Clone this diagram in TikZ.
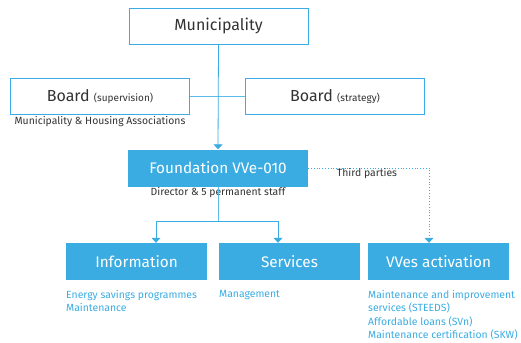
\documentclass[tikz,border=0pt]{standalone}
\usepackage{fontspec}
\setmainfont{Fira Sans}
\usetikzlibrary{arrows.meta,positioning}
\definecolor{vblue}{HTML}{3AACE2}
\definecolor{vline}{HTML}{5BBDE8}
\definecolor{ink}{HTML}{333333}
\newcommand{\sm}[1]{{\fontsize{10}{11}\selectfont #1}}
\tikzset{
  every node/.style={text=ink},
  % white boxes with a blue rim, and full blue boxes with white text
  obox/.style={draw=vblue, fill=white, line width=0.8pt, minimum width=179pt, minimum height=36pt,
               font=\fontsize{16}{18}\selectfont},
  fbox/.style={fill=vblue, text=white, minimum width=#1, minimum height=37pt,
               font=\fontsize{15.3}{17}\selectfont},
  note/.style={font=\fontsize{10.4}{13.5}\selectfont, text=ink, align=center, inner sep=0pt},
  list/.style={font=\fontsize{10.4}{13.5}\selectfont, text=vblue, align=left, inner sep=0pt, anchor=north west},
  ln/.style={draw=vline, line width=0.8pt},
  arr/.style={ln, -{Triangle[length=5pt,width=9pt]}, color=vblue},
}

\begin{document}
\begin{tikzpicture}[x=1pt,y=-1pt]
  \useasboundingbox (0,0) rectangle (521,342);

  % ---- top: municipality and the two boards ----
  \node[obox] (muni)  at (218.5,26)  {Municipality};
  \node[obox] (bsup)  at (100,96.5)  {Board \sm{(supervision)}};
  \node[obox] (bstr)  at (335,96.5)  {Board \sm{(strategy)}};
  \node[note] (bsupn) at (100,122)   {Municipality \& Housing Associations};

  \draw[ln] (bsup) -- (bstr);

  % ---- foundation ----
  \node[fbox=180pt] (found) at (218,168) {Foundation VVe-010};
  \node[note] (foundn) at (218,193) {Director \& 5 permanent staff};
  \draw[arr] (muni.south) -- (found.north);

  % ---- three branches ----
  \node[fbox=141pt] (info) at (136.5,261.5) {Information};
  \node[fbox=141pt] (serv) at (289.5,261.5) {Services};
  \node[fbox=141pt] (vves) at (438.5,261.5) {VVes activation};

  \coordinate (split) at (218,221);
  \draw[ln] (found.south) -- (split);
  \draw[arr] (split) -| ([xshift=19.5pt]info.north);
  \draw[arr] (split) -| ([xshift=-11.5pt]serv.north);
  \draw[arr, dotted, line width=1pt] (found.east) -| ([xshift=-9.5pt]vves.north);
  \node[note] (third) at (367,174) {Third parties};

  \node[list] (infol) at (66,290)  {Energy savings programmes\\Maintenance};
  \node[list] (servl) at (219,290) {Management};
  \node[list] (vvesl) at (368,290) {Maintenance and improvement\\services (STEEDS)\\Affordable loans (SVn)\\Maintenance certification (SKW)};
\end{tikzpicture}
\end{document}
